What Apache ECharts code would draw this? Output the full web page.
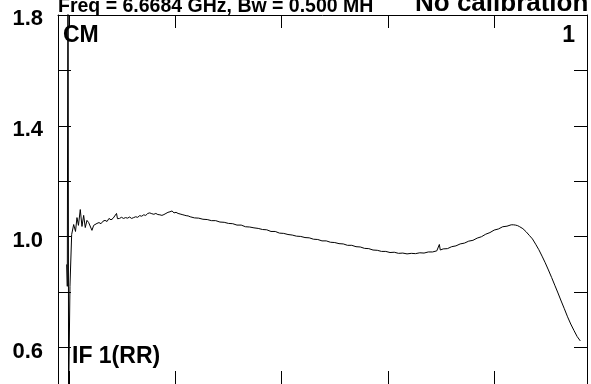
<!DOCTYPE html>
<html>
<head>
<meta charset="utf-8">
<script src="https://cdn.jsdelivr.net/npm/echarts@6/dist/echarts.min.js"></script>
<style>
html,body{margin:0;padding:0;background:#fff;}
#chart{width:591px;height:384px;}
</style>
</head>
<body>
<div id="chart"></div>
<script>
// channel axis (tick every 100), amplitude values
const xTicks = [0, 100, 200, 300, 400];
const yTicks = [0.6, 0.8, 1.0, 1.2, 1.4, 1.6, 1.8];
const yLabels = [0.6, 1.0, 1.4, 1.8];
const channels = [
 -2.2, -1.6, -0.9, -0.4, 0.9, 2.5, 4.4, 6.1, 7.5, 8.9, 10.6, 12.2, 13.8, 15.3, 16.9, 18.5, 20.0, 21.6, 23.2, 24.7,
 26.3, 28.2, 30.1, 32.0, 33.9, 35.8, 37.6, 39.5, 41.4, 43.0, 44.7, 45.6, 47.5, 49.4, 51.3, 53.2, 55.1, 57.0, 58.9, 60.8,
 62.7, 64.6, 66.5, 68.4, 70.3, 72.2, 74.1, 76.0, 77.9, 79.8, 81.7, 83.6, 85.5, 87.4, 89.3, 91.2, 93.1, 95.0, 96.9, 98.8,
 100.7, 102.6, 104.5, 106.4, 108.3, 110.2, 112.1, 114, 118, 122, 126, 130, 134, 138, 142, 146, 150, 154, 158, 162,
 166, 170, 174, 178, 182, 186, 190, 194, 198, 202, 206, 210, 214, 218, 222, 226, 230, 234, 238, 242,
 246, 250, 254, 258, 262, 266, 270, 274, 278, 282, 286, 290, 294, 298, 302, 306, 310, 314, 318, 322,
 326, 330, 334, 338, 342, 346, 347.5, 348.4, 349.3, 352, 356, 360, 364, 368, 372, 376, 380, 384, 388, 392,
 396, 400, 404, 408, 412, 416, 418, 420, 422, 424, 427, 430, 433, 436, 439, 442, 445, 448, 451, 454,
 457, 460, 463, 466, 469, 472, 475, 478, 481
];
const amplitude = [
 0.900, 0.821, 2.300, 0.400, 0.821, 1.008, 1.044, 1.019, 1.069, 1.041, 1.098, 1.037, 1.077, 1.033, 1.059, 1.051, 1.055, 1.023, 1.041, 1.044,
 1.048, 1.051, 1.047, 1.056, 1.059, 1.055, 1.066, 1.061, 1.066, 1.062, 1.084, 1.065, 1.066, 1.070, 1.066, 1.069, 1.067, 1.071, 1.066, 1.069,
 1.072, 1.070, 1.076, 1.074, 1.079, 1.077, 1.084, 1.086, 1.083, 1.081, 1.084, 1.080, 1.079, 1.077, 1.080, 1.084, 1.088, 1.090, 1.093, 1.086,
 1.088, 1.084, 1.082, 1.080, 1.078, 1.076, 1.075, 1.072, 1.068, 1.067, 1.063, 1.062, 1.058, 1.058, 1.053, 1.052, 1.048, 1.047, 1.042, 1.042,
 1.036, 1.035, 1.032, 1.030, 1.026, 1.025, 1.019, 1.019, 1.013, 1.012, 1.008, 1.006, 1.002, 1.001, 0.997, 0.996, 0.991, 0.990, 0.985, 0.985,
 0.980, 0.979, 0.975, 0.974, 0.969, 0.969, 0.964, 0.963, 0.958, 0.957, 0.952, 0.951, 0.947, 0.947, 0.943, 0.944, 0.940, 0.941, 0.938, 0.940,
 0.939, 0.942, 0.941, 0.945, 0.945, 0.949, 0.950, 0.972, 0.952, 0.956, 0.957, 0.964, 0.967, 0.974, 0.977, 0.984, 0.987, 0.995, 1.000, 1.009,
 1.015, 1.024, 1.028, 1.036, 1.038, 1.043, 1.043, 1.042, 1.040, 1.036, 1.029, 1.018, 1.005, 0.992, 0.973, 0.953, 0.930, 0.906, 0.880, 0.853,
 0.825, 0.797, 0.768, 0.740, 0.711, 0.685, 0.662, 0.640, 0.624
];

const data = channels.map((c, i) => [c, amplitude[i]]);
const black = '#000';
const labelFont = '"Liberation Sans", Arial, sans-serif';

function xAx(pos) {
  return {
    type: 'value', position: pos, min: -10.35, max: 487.3,
    axisLine: { show: true, onZero: false, lineStyle: { color: black, width: 1 } },
    axisTick: { show: true, inside: true, length: 13, customValues: xTicks, lineStyle: { color: black } },
    axisLabel: { show: false },
    splitLine: { show: false }
  };
}
function yAx(pos, labels) {
  return {
    type: 'value', position: pos, min: 0.4686, max: 1.8,
    axisLine: { show: true, onZero: false, lineStyle: { color: black, width: 1 } },
    axisTick: { show: true, inside: true, length: 13, customValues: yTicks, lineStyle: { color: black } },
    axisLabel: labels ? {
      show: true, customValues: yLabels, margin: 15, color: black,
      fontFamily: labelFont, fontWeight: 'bold', fontSize: 22,
      verticalAlign: 'top', lineHeight: 8,
      formatter: v => v.toFixed(1)
    } : { show: false },
    splitLine: { show: false }
  };
}

const chart = echarts.init(document.getElementById('chart'), null, { renderer: 'canvas' });
chart.setOption({
  animation: false,
  backgroundColor: '#fff',
  grid: { left: 58, right: 4, top: 15, bottom: -1, containLabel: false },
  xAxis: [xAx('bottom'), xAx('top')],
  yAxis: [yAx('left', true), yAx('right', false)],
  series: [{
    type: 'line', data: data, xAxisIndex: 0, yAxisIndex: 0,
    showSymbol: false, clip: true,
    lineStyle: { color: black, width: 1 }
  }],
  graphic: [
    { type: 'text', x: 58, y: 7, silent: true,
      style: { text: 'Freq = 6.6684 GHz, Bw = 0.500 MH', font: 'bold 19.5px ' + labelFont, fill: black, textAlign: 'left', textVerticalAlign: 'middle' } },
    { type: 'text', x: 415, y: 4, silent: true,
      style: { text: 'No calibration applied', font: 'bold 26px ' + labelFont, fill: black, textAlign: 'left', textVerticalAlign: 'middle' } },
    { type: 'text', x: 63, y: 36, silent: true,
      style: { text: 'CM', font: 'bold 23px ' + labelFont, fill: black, textAlign: 'left', textVerticalAlign: 'middle' } },
    { type: 'text', x: 575, y: 36, silent: true,
      style: { text: '1', font: 'bold 23px ' + labelFont, fill: black, textAlign: 'right', textVerticalAlign: 'middle' } },
    { type: 'text', x: 72, y: 357, silent: true,
      style: { text: 'IF 1(RR)', font: 'bold 23px ' + labelFont, fill: black, textAlign: 'left', textVerticalAlign: 'middle' } }
  ]
});
</script>
</body>
</html>
